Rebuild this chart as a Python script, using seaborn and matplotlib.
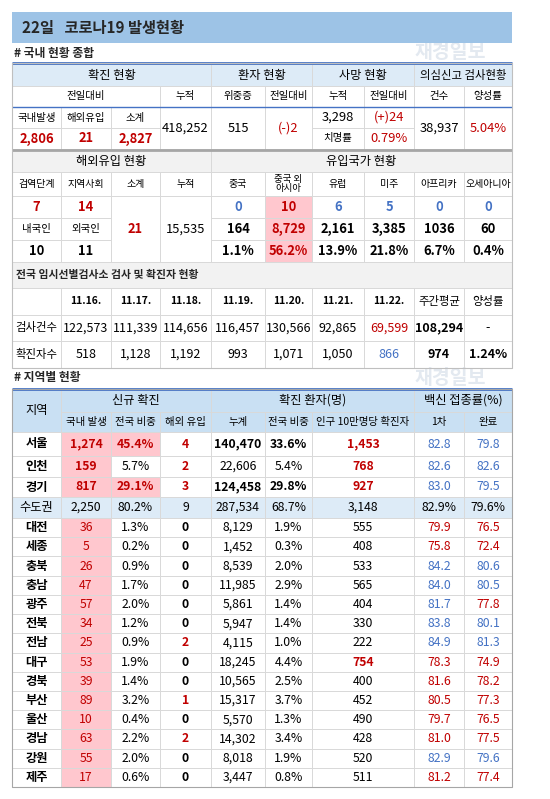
import matplotlib.pyplot as plt
import matplotlib.patches as mpatches
import seaborn as sns

sns.set_theme(style="white")
plt.rcParams['font.family'] = ['Noto Sans CJK KR', 'DejaVu Sans']

RED = '#c00000'
BLUE = '#4472c4'
PINK = '#ffc7ce'
LBLUE = '#ddebf7'
GRAY = '#f2f2f2'
LINE = '#d9d9d9'

# 국내 현황 종합
summary_hdr = ['위중증', '전일대비', '누적', '전일대비', '건수', '양성률']
new_labels = ['국내발생', '해외유입', '소계']
new_vals = ['2,806', '21', '2,827']
total_cases = '418,252'
critical = '515'
critical_diff = '(-)2'
deaths = '3,298'
deaths_diff = '(+)24'
fatality = '0.79%'
tests = '38,937'
positivity = '5.04%'

# 해외유입 / 유입국가
import_hdr = ['검역단계', '지역사회', '소계', '누적']
import_vals = ['7', '14']
import_nat = ['내국인', '외국인']
import_nat_vals = ['10', '11']
import_sub = '21'
import_cum = '15,535'
country_hdr = ['중국', '중국 외\n아시아', '유럽', '미주', '아프리카', '오세아니아']
country_new = ['0', '10', '6', '5', '0', '0']
country_cum = ['164', '8,729', '2,161', '3,385', '1036', '60']
country_pct = ['1.1%', '56.2%', '13.9%', '21.8%', '6.7%', '0.4%']

# 임시선별검사소
dates = ['11.16.', '11.17.', '11.18.', '11.19.', '11.20.', '11.21.', '11.22.']
site_tests = ['122,573', '111,339', '114,656', '116,457', '130,566', '92,865', '69,599']
site_cases = ['518', '1,128', '1,192', '993', '1,071', '1,050', '866']
site_tests_avg, site_cases_avg, site_rate = '108,294', '974', '1.24%'

# 지역별 현황
regions = ['서울', '인천', '경기', '수도권', '대전', '세종', '충북', '충남', '광주', '전북',
           '전남', '대구', '경북', '부산', '울산', '경남', '강원', '제주']
local = ['1,274', '159', '817', '2,250', '36', '5', '26', '47', '57', '34', '25', '53', '39',
         '89', '10', '63', '55', '17']
share = ['45.4%', '5.7%', '29.1%', '80.2%', '1.3%', '0.2%', '0.9%', '1.7%', '2.0%', '1.2%',
         '0.9%', '1.9%', '1.4%', '3.2%', '0.4%', '2.2%', '2.0%', '0.6%']
overseas = [4, 2, 3, 9, 0, 0, 0, 0, 0, 0, 2, 0, 0, 1, 0, 2, 0, 0]
cum = ['140,470', '22,606', '124,458', '287,534', '8,129', '1,452', '8,539', '11,985', '5,861',
       '5,947', '4,115', '18,245', '10,565', '15,317', '5,570', '14,302', '8,018', '3,447']
cum_share = ['33.6%', '5.4%', '29.8%', '68.7%', '1.9%', '0.3%', '2.0%', '2.9%', '1.4%', '1.4%',
             '1.0%', '4.4%', '2.5%', '3.7%', '1.3%', '3.4%', '1.9%', '0.8%']
per100k = ['1,453', '768', '927', '3,148', '555', '408', '533', '565', '404', '330', '222',
           '754', '400', '452', '490', '428', '520', '511']
vac1 = [82.8, 82.6, 83.0, 82.9, 79.9, 75.8, 84.2, 84.0, 81.7, 83.8, 84.9, 78.3, 81.6, 80.5,
        79.7, 81.0, 82.9, 81.2]
vac2 = [79.8, 82.6, 79.5, 79.6, 76.5, 72.4, 80.6, 80.5, 77.8, 80.1, 81.3, 74.9, 78.2, 77.3,
        76.5, 77.5, 79.6, 77.4]

fig = plt.figure(figsize=(5.5, 7.99), dpi=100)
ax = fig.add_axes([0, 0, 1, 1])
ax.set_xlim(0, 550)
ax.set_ylim(799, 0)
ax.axis('off')

E = [12, 61, 111, 160, 211, 265, 312, 364, 414, 464, 512]
FS = 8.8


def cell(c0, c1, y0, y1, text='', bg=None, color='black', bold=False, fs=FS, xs=None):
    x0, x1 = (xs if xs else (E[c0], E[c1]))
    if bg:
        ax.add_patch(mpatches.Rectangle((x0, y0), x1 - x0, y1 - y0, fc=bg, ec='none', zorder=1))
    ax.add_patch(mpatches.Rectangle((x0, y0), x1 - x0, y1 - y0, fc='none', ec=LINE, lw=0.6, zorder=2))
    if text:
        ax.text((x0 + x1) / 2, (y0 + y1) / 2, text, ha='center', va='center', fontsize=fs,
                color=color, fontweight='bold' if bold else 'normal', zorder=3, linespacing=1.0)


def hline(y, color, lw):
    ax.plot([E[0], E[-1]], [y, y], color=color, lw=lw, zorder=4, solid_capstyle='butt')


# watermark (faint)
ax.text(450, 52, '재경일보', fontsize=14, color='#e3e9f0', ha='center', va='center',
        fontweight='bold', zorder=0)
ax.text(450, 378, '재경일보', fontsize=14, color='#e3e9f0', ha='center', va='center',
        fontweight='bold', zorder=0)

# title
ax.add_patch(mpatches.Rectangle((12, 12), 500, 31, fc='#9dc3e6', ec='none'))
ax.text(22, 28, '22일   코로나19 발생현황', fontsize=11, fontweight='bold', va='center')
ax.text(14, 53, '# 국내 현황 종합', fontsize=8.5, fontweight='bold', va='center')

# section 1
cell(0, 4, 64, 86, '확진 현황', LBLUE)
cell(4, 6, 64, 86, '환자 현황', LBLUE)
cell(6, 8, 64, 86, '사망 현황', LBLUE)
cell(8, 10, 64, 86, '의심신고 검사현황', LBLUE, fs=8.2)
cell(0, 3, 86, 107, '전일대비', fs=7.5)
cell(3, 4, 86, 107, '누적', fs=7.5)
for i, h in enumerate(summary_hdr):
    cell(4 + i, 5 + i, 86, 107, h, fs=7.5)
for i in range(3):
    cell(i, i + 1, 107, 128, new_labels[i], fs=7.5)
    cell(i, i + 1, 128, 149, new_vals[i], color=RED, bold=True, fs=9.3)
cell(3, 4, 107, 149, total_cases, fs=9.3)
cell(4, 5, 107, 149, critical, fs=9.3)
cell(5, 6, 107, 149, critical_diff, color=RED, fs=9.3)
cell(6, 7, 107, 128, deaths, fs=9.3)
cell(7, 8, 107, 128, deaths_diff, color=RED, fs=9.3)
cell(6, 7, 128, 149, '치명률', fs=7.5)
cell(7, 8, 128, 149, fatality, color=RED, fs=9.3)
cell(8, 9, 107, 149, tests, fs=9.3)
cell(9, 10, 107, 149, positivity, color=RED, fs=9.3)
hline(63, BLUE, 2)
hline(107, BLUE, 1)

# section 2
cell(0, 4, 150, 172, '해외유입 현황', GRAY)
cell(4, 10, 150, 172, '유입국가 현황', GRAY)
for i, h in enumerate(import_hdr):
    cell(i, i + 1, 172, 196, h, fs=7.2)
for i, h in enumerate(country_hdr):
    cell(4 + i, 5 + i, 172, 196, h, fs=6.8 if '\n' in h else 7.2)
for i in range(2):
    cell(i, i + 1, 196, 218, import_vals[i], color=RED, bold=True, fs=9.3)
    cell(i, i + 1, 218, 240, import_nat[i], fs=7.5)
    cell(i, i + 1, 240, 262, import_nat_vals[i], bold=True, fs=9.3)
cell(2, 3, 196, 262, import_sub, color=RED, bold=True, fs=9.3)
cell(3, 4, 196, 262, import_cum, fs=9.3)
for i in range(6):
    bg = PINK if i == 1 else None
    cell(4 + i, 5 + i, 196, 218, country_new[i], bg, color=RED if i == 1 else BLUE, bold=True, fs=9.3)
    cell(4 + i, 5 + i, 218, 240, country_cum[i], bg, color=RED if i == 1 else 'black', bold=True, fs=9.3)
    cell(4 + i, 5 + i, 240, 262, country_pct[i], bg, color=RED if i == 1 else 'black', bold=True, fs=9.3)
hline(150, '#a6a6a6', 2)

# section 3
ax.add_patch(mpatches.Rectangle((12, 262), 500, 26, fc=GRAY, ec=LINE, lw=0.6))
ax.text(16, 275, '전국 임시선별검사소 검사 및 확진자 현황', fontsize=7.8, fontweight='bold', va='center')
cell(0, 1, 288, 315)
cell(0, 1, 315, 341, '검사건수', fs=8.2)
cell(0, 1, 341, 368, '확진자수', fs=8.2)
for i, d in enumerate(dates):
    last = i == len(dates) - 1
    cell(1 + i, 2 + i, 288, 315, d, bold=True, fs=7.5)
    cell(1 + i, 2 + i, 315, 341, site_tests[i], color=RED if last else 'black', fs=9)
    cell(1 + i, 2 + i, 341, 368, site_cases[i], color=BLUE if last else 'black', fs=9)
cell(8, 9, 288, 315, '주간평균', fs=8.2)
cell(9, 10, 288, 315, '양성률', fs=8.2)
cell(8, 9, 315, 341, site_tests_avg, bold=True, fs=9)
cell(9, 10, 315, 341, '-', fs=9)
cell(8, 9, 341, 368, site_cases_avg, bold=True, fs=9)
cell(9, 10, 341, 368, site_rate, bold=True, fs=9)

# section 4
ax.text(14, 378, '# 지역별 현황', fontsize=8.5, fontweight='bold', va='center')
HB = '#c9e0f3'
cell(0, 1, 389, 432, '지역', HB)
cell(1, 4, 389, 412, '신규 확진', HB)
cell(0, 0, 389, 412, '확진 환자(명)', HB, xs=(211, 414))
cell(0, 0, 389, 412, '백신 접종률(%)', HB, xs=(414, 512))
sub = [('국내 발생', 61, 111), ('전국 비중', 111, 160), ('해외 유입', 160, 211), ('누계', 211, 265),
       ('전국 비중', 265, 312), ('인구 10만명당 확진자', 312, 414), ('1차', 414, 464), ('완료', 464, 512)]
for t, a, b in sub:
    cell(0, 0, 412, 432, t, HB, fs=7.5, xs=(a, b))
hline(389, BLUE, 2)

ys = [432, 456, 477, 497, 518]
for k in range(14):
    ys.append(518 + (787 - 518) * (k + 1) / 14)
top3 = {'서울', '인천', '경기'}
for r, name in enumerate(regions):
    y0, y1 = ys[r], ys[r + 1]
    metro = name == '수도권'
    rowbg = LBLUE if metro else None
    big = name in top3
    cell(0, 0, y0, y1, name, rowbg, bold=not metro, fs=8.8, xs=(12, 61))
    cell(0, 0, y0, y1, local[r], rowbg if metro else PINK, color='black' if metro else RED,
         bold=big, xs=(61, 111))
    sh_bg = PINK if name in ('서울', '경기') else rowbg
    cell(0, 0, y0, y1, share[r], sh_bg, color=RED if name in ('서울', '경기') else 'black',
         bold=name in ('서울', '경기'), xs=(111, 160))
    cell(0, 0, y0, y1, str(overseas[r]), rowbg,
         color='black' if metro or overseas[r] == 0 else RED, bold=not metro, xs=(160, 211))
    cell(0, 0, y0, y1, cum[r], rowbg, bold=name in ('서울', '경기'), xs=(211, 265))
    cell(0, 0, y0, y1, cum_share[r], rowbg, bold=name in ('서울', '경기'), xs=(265, 312))
    hot = name in ('서울', '인천', '경기', '대구')
    cell(0, 0, y0, y1, per100k[r], rowbg, color=RED if hot else 'black', bold=hot, xs=(312, 414))
    if metro:
        cell(0, 0, y0, y1, f'{vac1[r]:.1f}%', rowbg, xs=(414, 464))
        cell(0, 0, y0, y1, f'{vac2[r]:.1f}%', rowbg, xs=(464, 512))
    else:
        cell(0, 0, y0, y1, f'{vac1[r]:.1f}', color=BLUE if vac1[r] > 81.65 else RED, xs=(414, 464))
        cell(0, 0, y0, y1, f'{vac2[r]:.1f}', color=BLUE if vac2[r] > 79.0 else RED, xs=(464, 512))

ax.add_patch(mpatches.Rectangle((12, 389), 500, 398, fc='none', ec='#a6a6a6', lw=0.8, zorder=4))
ax.add_patch(mpatches.Rectangle((12, 63), 500, 305, fc='none', ec='#bfbfbf', lw=0.8, zorder=4))

fig.savefig('out.png', dpi=100)
